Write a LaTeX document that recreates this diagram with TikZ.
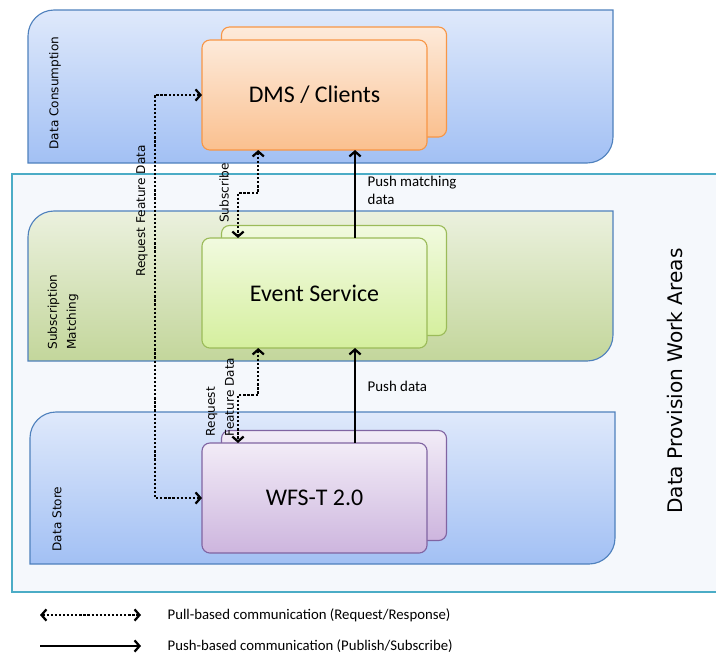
\documentclass[tikz,border=0pt]{standalone}
\usepackage{fontspec}
\setmainfont{Carlito}
\newfontfamily\verdana{DejaVu Sans}
\usetikzlibrary{arrows.meta,calc}
\definecolor{outerfill}{HTML}{F5F8FC}
\definecolor{outerline}{HTML}{4BACC6}
\definecolor{bandline}{HTML}{4F81BD}
\definecolor{bluetop}{HTML}{DFE9FB}
\definecolor{bluebot}{HTML}{A2C0F4}
\definecolor{greentop}{HTML}{EBF1DE}
\definecolor{greenbot}{HTML}{C3D69B}
\definecolor{dmstop}{HTML}{FDEADA}
\definecolor{dmsbot}{HTML}{FAC08F}
\definecolor{dmsline}{HTML}{F79646}
\definecolor{evtop}{HTML}{F1FADF}
\definecolor{evbot}{HTML}{D5EF9E}
\definecolor{evline}{HTML}{9BBB59}
\definecolor{wfstop}{HTML}{F2ECF7}
\definecolor{wfsbot}{HTML}{CDB5DE}
\definecolor{wfsline}{HTML}{8064A2}

\begin{document}
\begin{tikzpicture}[x=0.025cm, y=-0.025cm,
	area/.style={draw=bandline, line width=0.8pt},
	bluearea/.style={area, top color=bluetop, bottom color=bluebot},
	greenarea/.style={area, top color=greentop, bottom color=greenbot},
	box/.style={rounded corners=0.2cm, minimum width=5.625cm, minimum height=2.75cm, inner sep=0pt, outer sep=0pt, line width=0.8pt, font=\fontsize{17}{20}\selectfont},
	dmsbox/.style={box, draw=dmsline, top color=dmstop, bottom color=dmsbot},
	evbox/.style={box, draw=evline, top color=evtop, bottom color=evbot},
	wfsbox/.style={box, draw=wfsline, top color=wfstop, bottom color=wfsbot},
	areatext/.style={font=\verdana\fontsize{8.6}{13.5}\selectfont, rotate=90, align=left, inner sep=1pt},
	lbl/.style={font=\fontsize{10.6}{12.8}\selectfont, align=left, anchor=west, inner sep=1pt},
	pull/.style={line width=1.6pt, dash pattern=on 1.6pt off 1.3pt, {Straight Barb[length=3.5pt,width=8pt]}-{Straight Barb[length=3.5pt,width=8pt]}},
	push/.style={line width=1.6pt, -{Straight Barb[length=3.5pt,width=8pt]}}]
				\useasboundingbox (0,0) rectangle (716,654);
				
				\path[draw=outerline, fill=outerfill, line width=0.8pt] (12,174) rectangle (722,592);
				\path[bluearea] (28,163) -- (28,36) .. controls (28,21.7) and (39.7,10) .. (54,10) -- (613,10) -- (613,137) .. controls (613,151.3) and (601.3,163) .. (587,163) -- cycle;
				\path[greenarea] (28,361) -- (28,237) .. controls (28,222.7) and (39.7,211) .. (54,211) -- (613,211) -- (613,335) .. controls (613,349.3) and (601.3,361) .. (587,361) -- cycle;
				\path[bluearea] (30,564) -- (30,438) .. controls (30,423.7) and (41.7,412) .. (56,412) -- (615,412) -- (615,538) .. controls (615,552.3) and (603.3,564) .. (589,564) -- cycle;
				
				\node[dmsbox] (dmsback) at (334,82){};
				\node[dmsbox] (dms) at (314.5,95){DMS / Clients};
				\node[evbox] (eventback) at (334,280.5){};
				\node[evbox] (event) at (314.5,293){Event Service};
				\node[wfsbox] (wfsback) at (334,485.5){};
				\node[wfsbox] (wfs) at (314.5,498){WFS-T 2.0};
				
				\node[areatext] (consumption) at (55,93){Data Consumption};
				\node[areatext] (matching) at (63,312){Subscription\\Matching};
				\node[areatext] (store) at (57,519){Data Store};
				\node[font=\verdana\fontsize{14.3}{16}\selectfont, rotate=90] (provision) at (675,381){Data Provision Work Areas};
				
				\draw[pull] (dms.west) -- ++(-47,0) |- (wfs.west);
				\draw[pull] ($(dms.south west)!0.25!(dms.south east)$) -- ++(0,43) -| ($(event.north west)!0.16!(event.north east)$);
				\draw[pull] ($(event.south west)!0.25!(event.south east)$) -- ++(0,47) -| ($(wfs.north west)!0.16!(wfs.north east)$);
				\draw[push] ($(event.north west)!0.68!(event.north east)$) -- ($(dms.south west)!0.68!(dms.south east)$);
				\draw[push] ($(wfs.north west)!0.68!(wfs.north east)$) -- ($(event.south west)!0.68!(event.south east)$);
				
				\node[areatext] (rfdtext) at (142,211){Request Feature Data};
				\node[areatext] (subtext) at (224,193){Subscribe};
				\node[areatext] (rfdtext2) at (220,397){Request\\Feature Data};
				\node[lbl] (pushmtext) at (366,190){Push matching\\data};
				\node[lbl] (pushtext) at (366,386){Push data};
				
				\coordinate (pulla) at (40,615);
				\coordinate (pullb) at (141,615);
				\coordinate (pusha) at (40,646);
				\coordinate (pushb) at (141,646);
				\draw[pull] (pulla) -- (pullb);
				\draw[push] (pusha) -- (pushb);
				\node[lbl, font=\fontsize{10.5}{12}\selectfont] (pulltext) at (166,615){Pull-based communication (Request/Response)};
				\node[lbl, font=\fontsize{10.5}{12}\selectfont] (pushtext2) at (166,646){Push-based communication (Publish/Subscribe)};
\end{tikzpicture}
\end{document}
